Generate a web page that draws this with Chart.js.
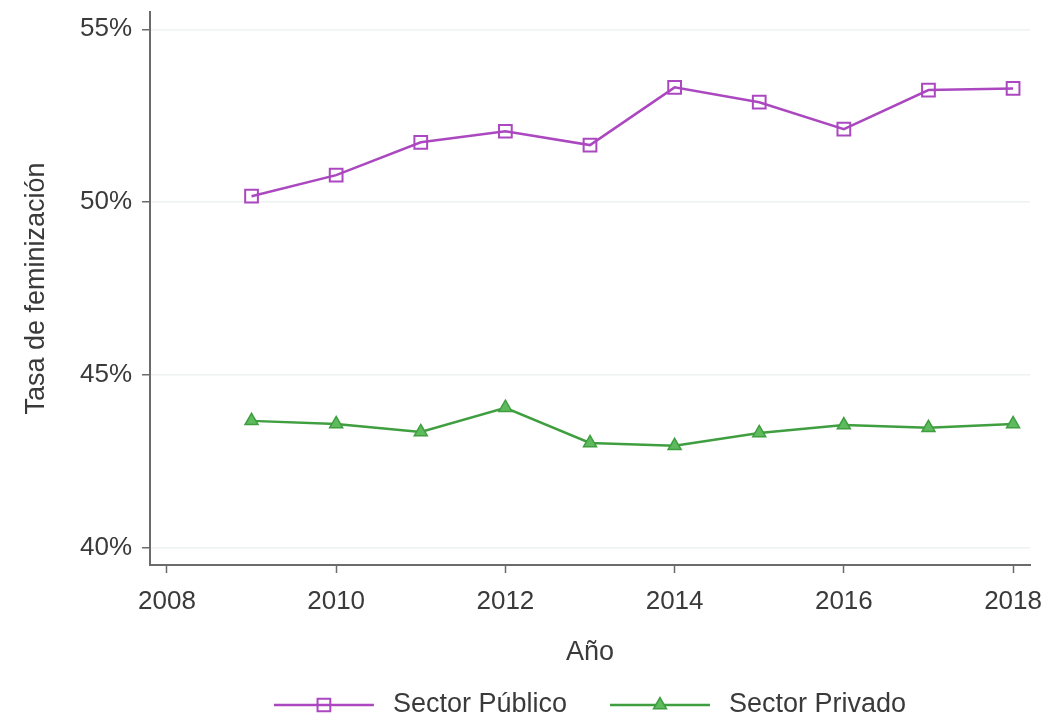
<!DOCTYPE html>
<html>
<head>
<meta charset="utf-8">
<script src="https://cdn.jsdelivr.net/npm/chart.js@4"></script>
<style>
    html, body { margin: 0; padding: 0; background: #fff; }
    #wrap { width: 1046px; height: 719px; }
</style>
</head>
<body>
<div id="wrap"><canvas id="chart" width="1046" height="719"></canvas></div>
<script>
// Data
const years = [2009, 2010, 2011, 2012, 2013, 2014, 2015, 2016, 2017, 2018];
const sectorPublico = [50.17, 50.78, 51.73, 52.05, 51.65, 53.32, 52.89, 52.11, 53.24, 53.29];
const sectorPrivado = [43.67, 43.58, 43.35, 44.05, 43.03, 42.95, 43.32, 43.55, 43.47, 43.58];
const xTicks = [2008, 2010, 2012, 2014, 2016, 2018];
const yTicks = [40, 45, 50, 55];

const FONT = '"Liberation Sans", Arial, sans-serif';
const PURPLE = '#ab48c0';
const GREEN = '#3f9e3f';
const GREEN_FILL = '#5dbb5d';
const TEXT = '#3a3a3a';
const AXIS = '#6b6b6b';

const toPoints = vals => vals.map((v, i) => ({ x: years[i], y: v }));

// Legend drawn as line + marker + label, centered under the plot
const lineLegend = {
    id: 'lineLegend',
    afterDraw(chart) {
        const ctx = chart.ctx;
        const area = chart.chartArea;
        const y = 705;
        const lineLen = 100;
        const gap = 19;
        const between = 43;
        ctx.save();
        ctx.font = '27px ' + FONT;
        const items = chart.data.datasets.map(ds => ({ ds, w: ctx.measureText(ds.label).width }));
        const total = items.reduce((s, it) => s + lineLen + gap + it.w, 0) + between * (items.length - 1);
        let x = (area.left + area.right) / 2 - total / 2;
        items.forEach(({ ds, w }) => {
            ctx.strokeStyle = ds.borderColor;
            ctx.lineWidth = ds.borderWidth;
            ctx.beginPath();
            ctx.moveTo(x, y);
            ctx.lineTo(x + lineLen, y);
            ctx.stroke();
            ctx.fillStyle = ds.pointBackgroundColor;
            ctx.strokeStyle = ds.pointBorderColor;
            ctx.lineWidth = ds.pointBorderWidth;
            Chart.helpers.drawPoint(ctx, {
                pointStyle: ds.pointStyle,
                radius: ds.pointRadius,
                borderWidth: ds.pointBorderWidth,
                rotation: 0
            }, x + lineLen / 2, y);
            ctx.fillStyle = TEXT;
            ctx.textBaseline = 'middle';
            ctx.fillText(ds.label, x + lineLen + gap, y);
            x += lineLen + gap + w + between;
        });
        ctx.restore();
    }
};

new Chart(document.getElementById('chart'), {
    type: 'line',
    data: {
        datasets: [{
            label: 'Sector Público',
            data: toPoints(sectorPublico),
            borderColor: PURPLE,
            borderWidth: 2.5,
            pointStyle: 'rect',
            pointRadius: 9,
            pointBorderWidth: 2,
            pointBorderColor: PURPLE,
            pointBackgroundColor: 'rgba(255,255,255,0)',
            tension: 0
        }, {
            label: 'Sector Privado',
            data: toPoints(sectorPrivado),
            borderColor: GREEN,
            borderWidth: 2.5,
            pointStyle: 'triangle',
            pointRadius: 7.5,
            pointBorderWidth: 1.5,
            pointBorderColor: GREEN,
            pointBackgroundColor: GREEN_FILL,
            tension: 0
        }]
    },
    options: {
        responsive: false,
        animation: false,
        layout: { padding: { top: 12, right: 16, bottom: 50, left: 0 } },
        plugins: {
            legend: { display: false },
            tooltip: { enabled: false }
        },
        scales: {
            x: {
                type: 'linear',
                min: 2007.8,
                max: 2018.2,
                afterBuildTicks: scale => { scale.ticks = xTicks.map(v => ({ value: v })); },
                afterFit: scale => {
                    scale.height = 104;
                    scale.paddingLeft = 0;
                    scale.paddingRight = 0;
                },
                border: { color: AXIS, width: 2 },
                grid: { drawOnChartArea: false, drawTicks: true, tickLength: 8, tickColor: AXIS, tickWidth: 1.5 },
                ticks: { color: TEXT, font: { family: FONT, size: 26 }, padding: 13, callback: v => String(v) },
                title: { display: true, text: 'Año', color: TEXT, font: { family: FONT, size: 27 }, padding: { top: 10, bottom: 0 } }
            },
            y: {
                min: 39.5,
                max: 55.5,
                afterBuildTicks: scale => { scale.ticks = yTicks.map(v => ({ value: v })); },
                afterFit: scale => {
                    scale.width = 150;
                    scale.paddingTop = 0;
                    scale.paddingBottom = 0;
                },
                border: { color: AXIS, width: 2 },
                grid: { color: '#edf2f2', lineWidth: 1.5, drawTicks: true, tickLength: 8, tickColor: AXIS, tickWidth: 1.5 },
                ticks: { color: TEXT, font: { family: FONT, size: 26 }, padding: 10, callback: v => v + '%' },
                title: { display: true, text: 'Tasa de feminización', color: TEXT, font: { family: FONT, size: 27 }, padding: { top: 20, bottom: 0 } }
            }
        }
    },
    plugins: [lineLegend]
});
</script>
</body>
</html>
